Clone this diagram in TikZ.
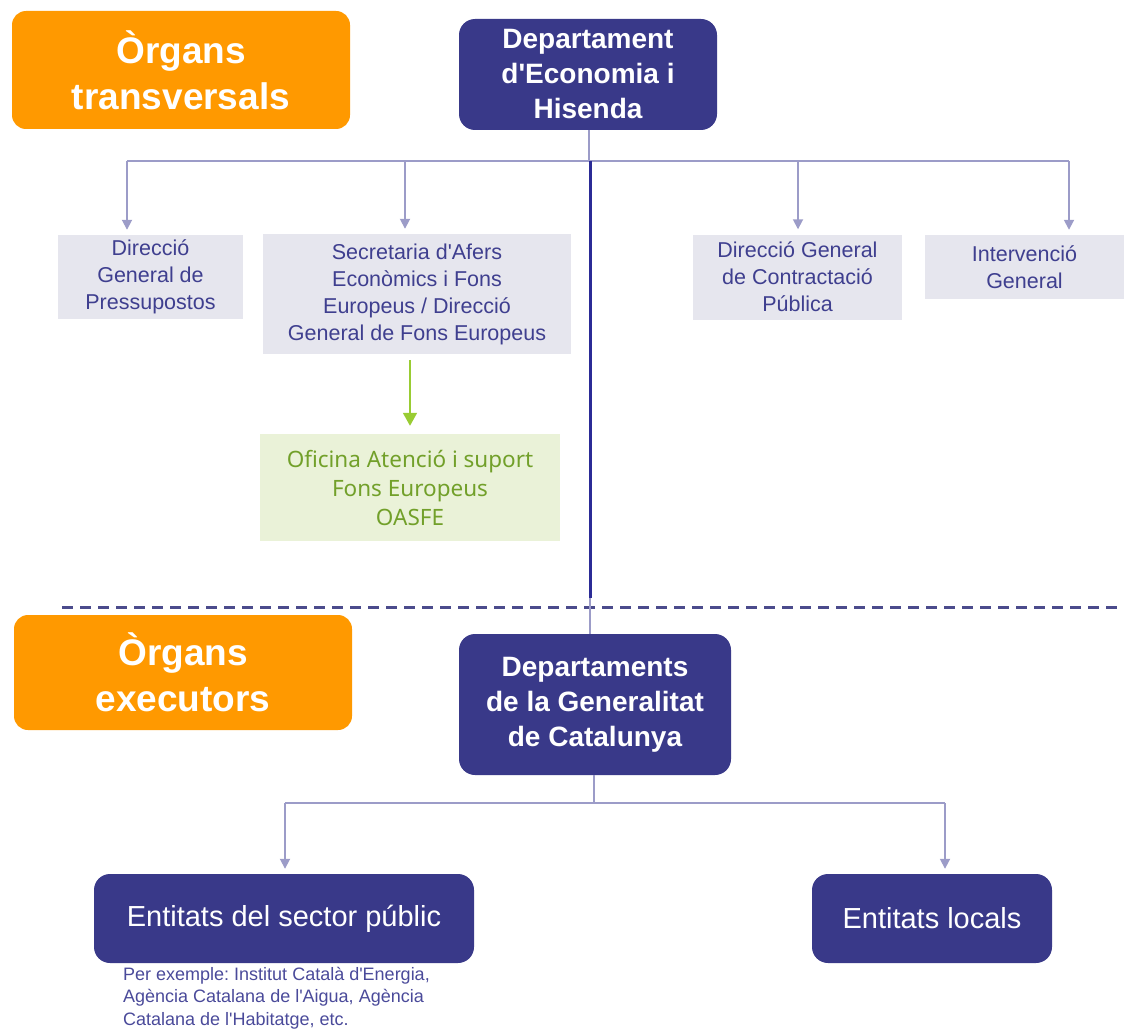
\documentclass[tikz,border=0pt]{standalone}
\usepackage{fontspec}
\setmainfont{Liberation Sans}
\newfontfamily\greenfont{Noto Sans}
\usetikzlibrary{arrows.meta}
\frenchspacing
\newcommand{\apos}{\textquotesingle}
\definecolor{orgorange}{HTML}{FF9900}
\definecolor{navy}{HTML}{393989}
\definecolor{lightline}{HTML}{9C9CC8}
\definecolor{thickline}{HTML}{2B2B96}
\definecolor{dashcol}{HTML}{4B4B8C}
\definecolor{grayfill}{HTML}{E6E6EE}
\definecolor{graytext}{HTML}{3F3F8F}
\definecolor{greenfill}{HTML}{EAF2D8}
\definecolor{greentext}{HTML}{72A02A}
\definecolor{greenline}{HTML}{99CC33}
\definecolor{notetext}{HTML}{4A4A9A}
\tikzset{
  orgbox/.style={fill=orgorange, rounded corners=14pt, text=white, align=center,
    font=\fontsize{37}{46}\selectfont\bfseries, inner sep=0pt},
  navybox/.style={fill=navy, rounded corners=16pt, text=white, align=center,
    font=\fontsize{28}{35}\selectfont\bfseries, inner sep=0pt},
  navyplain/.style={fill=navy, rounded corners=16pt, text=white, align=center,
    font=\fontsize{29}{34}\selectfont, inner sep=0pt},
  graybox/.style={fill=grayfill, text=graytext, align=center,
    font=\fontsize{21.5}{27}\selectfont, inner sep=0pt},
  greenbox/.style={fill=greenfill, text=greentext, align=center,
    font=\greenfont\fontsize{22.5}{29}\selectfont, inner sep=0pt},
  link/.style={draw=lightline, line width=1.8pt},
  arr/.style={draw=lightline, line width=1.8pt, -{Triangle[width=10pt,length=10pt]}, shorten >=5pt},
  garr/.style={draw=greenline, line width=1.8pt, -{Triangle[width=14pt,length=13pt]}, shorten >=8pt},
}
\begin{document}
\begin{tikzpicture}[x=1pt,y=-1pt]
\useasboundingbox (0,0) rectangle (1124,1030);
% top section
\node[orgbox, minimum width=338pt, minimum height=118pt] (orgT) at (181,70) {Òrgans\\transversals};
\node[navybox, minimum width=258pt, minimum height=111pt] (dep) at (588,74.5) {Departament\\d\apos Economia i\\Hisenda};
\node[graybox, minimum width=185pt, minimum height=84pt] (dgp) at (150.5,277) {Direcció\\General de\\Pressupostos};
\node[graybox, minimum width=308pt, minimum height=120pt] (sec) at (417,294) {Secretaria d\apos Afers\\Econòmics i Fons\\Europeus / Direcció\\General de Fons Europeus};
\node[graybox, minimum width=209pt, minimum height=85pt] (dgc) at (797.5,277) {Direcció General\\de Contractació\\Pública};
\node[graybox, minimum width=199pt, minimum height=64pt] (ig) at (1024.5,267) {Intervenció\\General};
\node[greenbox, minimum width=300pt, minimum height=107pt] (oasfe) at (410,487.5) {Oficina Atenció i suport\\Fons Europeus\\OASFE};

\coordinate (h0) at (589,161);
\coordinate (h1) at (127,161);
\coordinate (h2) at (405,161);
\coordinate (h3) at (798,161);
\coordinate (h4) at (1069,161);
\draw[link] (dep.south -| h0) -- (h0);
\draw[link] (h1) -- (h4);
\draw[arr] (h1) -- (h1 |- dgp.north);
\draw[arr] (h2) -- (h2 |- sec.north);
\draw[arr] (h3) -- (h3 |- dgc.north);
\draw[arr] (h4) -- (h4 |- ig.north);

\coordinate (g1) at (410,360);
\draw[garr] (g1) -- (oasfe.north);

% thick central line
\coordinate (t1) at (590,161);
\coordinate (t2) at (590,598);

% dashed separator
\coordinate (d1) at (62,607);
\coordinate (d2) at (1124,607);
\draw[draw=dashcol, line width=3pt, dash pattern=on 11pt off 7pt] (d1) -- (d2);

% bottom section
\node[orgbox, minimum width=338pt, minimum height=115pt] (orgE) at (183,672.5) {Òrgans\\executors};
\node[navybox, minimum width=272pt, minimum height=141pt] (deps) at (595,704.5) {Departaments\\de la Generalitat\\de Catalunya};
\node[navyplain, minimum width=380pt, minimum height=89pt] (esp) at (284,918.5) {Entitats del sector públic};
\node[navyplain, minimum width=240pt, minimum height=89pt] (el) at (932,918.5) {Entitats locals};
\node[anchor=north west, align=left, text=notetext, inner sep=0pt,
  font=\fontsize{18}{22.5}\selectfont] (note) at (123,967) {Per exemple: Institut Català d\apos Energia,\\Agència Catalana de l\apos Aigua, Agència\\Catalana de l\apos Habitatge, etc.};

\draw[link] (t2) -- (t2 |- deps.north);
\draw[draw=thickline, line width=3pt] (t1) -- (t2);

\coordinate (b0) at (594,803);
\coordinate (b1) at (285,803);
\coordinate (b2) at (945,803);
\draw[link] (deps.south -| b0) -- (b0);
\draw[link] (b1) -- (b2);
\draw[arr] (b1) -- (b1 |- esp.north);
\draw[arr] (b2) -- (b2 |- el.north);
\end{tikzpicture}
\end{document}
